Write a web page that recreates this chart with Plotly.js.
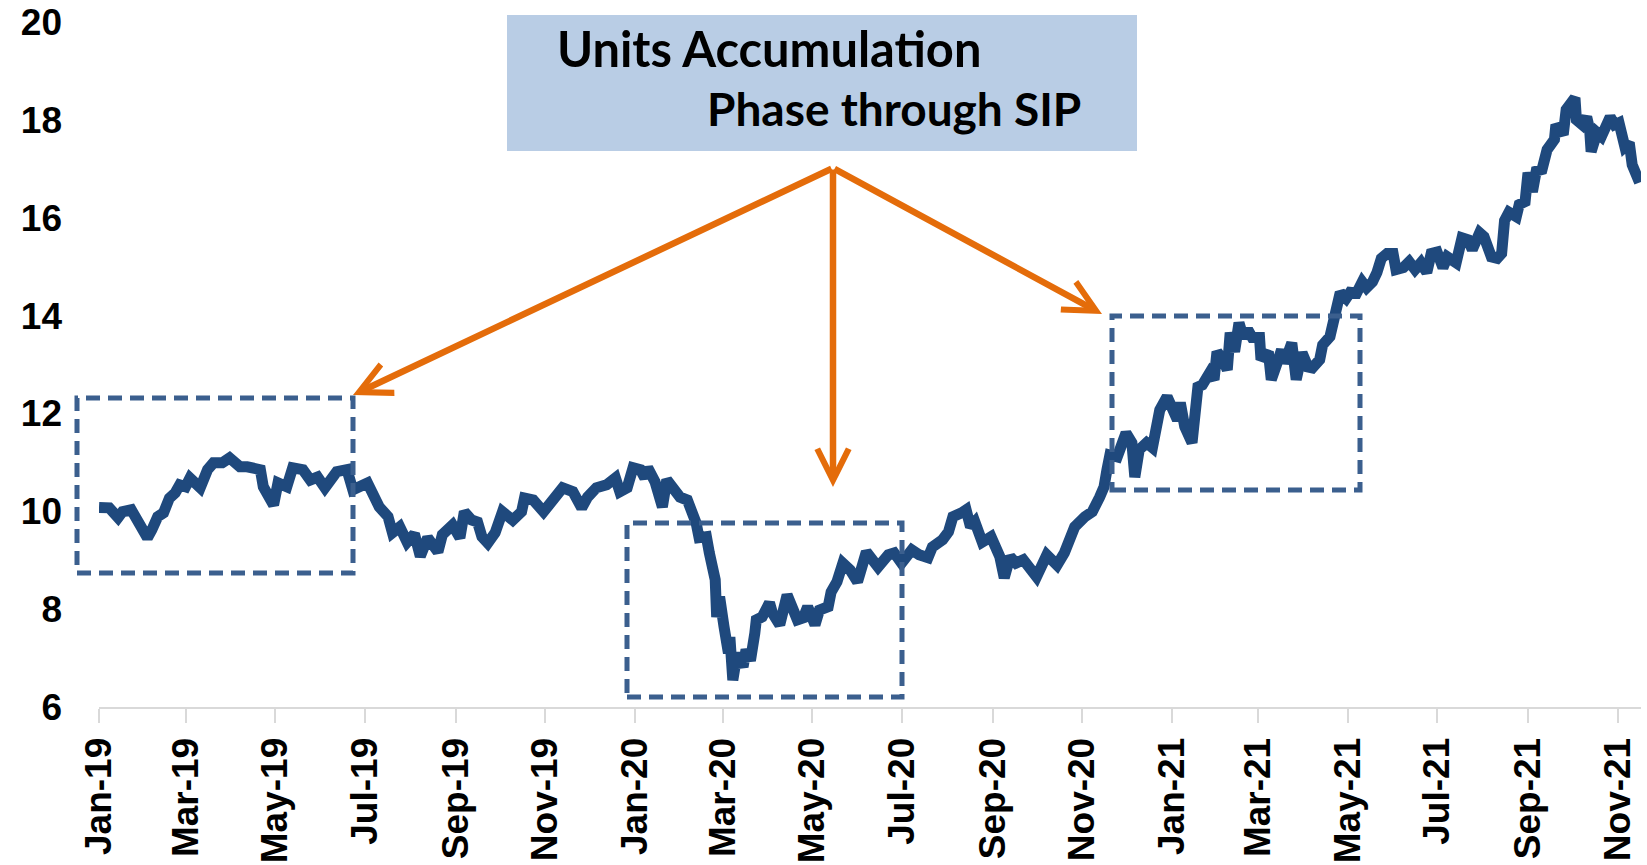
<!DOCTYPE html>
<html>
<head>
<meta charset="utf-8">
<script src="https://cdn.plot.ly/plotly-3.0.1.min.js"></script>
<style>
  html, body { margin: 0; padding: 0; background: #ffffff; }
  #chart { width: 1647px; height: 865px; }
</style>
</head>
<body>
<div id="chart"></div>
<script>
// ---- Data ----
const dates = [
  '2019-01-01','2019-01-08','2019-01-14','2019-01-17','2019-01-23','2019-01-29','2019-02-03','2019-02-06','2019-02-10','2019-02-14',
  '2019-02-18','2019-02-22','2019-02-25','2019-03-01','2019-03-04','2019-03-11','2019-03-16','2019-03-20','2019-03-26','2019-03-31',
  '2019-04-07','2019-04-12','2019-04-21','2019-04-23','2019-04-30','2019-05-03','2019-05-09','2019-05-13','2019-05-20','2019-05-25',
  '2019-05-30','2019-06-04','2019-06-09','2019-06-12','2019-06-19','2019-06-23','2019-07-03','2019-07-06','2019-07-11','2019-07-17',
  '2019-07-20','2019-07-25','2019-07-30','2019-08-04','2019-08-08','2019-08-13','2019-08-20','2019-08-23','2019-08-30','2019-09-04',
  '2019-09-07','2019-09-12','2019-09-16','2019-09-19','2019-09-23','2019-09-28','2019-10-03','2019-10-10','2019-10-16','2019-10-18',
  '2019-10-24','2019-10-31','2019-11-06','2019-11-13','2019-11-20','2019-11-26','2019-11-30','2019-12-06','2019-12-13','2019-12-19',
  '2019-12-22','2019-12-27','2019-12-31','2020-01-05','2020-01-08','2020-01-10','2020-01-15','2020-01-20','2020-01-23','2020-01-27',
  '2020-02-01','2020-02-06','2020-02-10','2020-02-12','2020-02-14','2020-02-19','2020-02-21','2020-02-25','2020-02-26','2020-02-28',
  '2020-03-02','2020-03-05','2020-03-06','2020-03-08','2020-03-11','2020-03-13','2020-03-15','2020-03-17','2020-03-20','2020-03-23',
  '2020-03-24','2020-03-28','2020-04-02','2020-04-04','2020-04-09','2020-04-14','2020-04-18','2020-04-21','2020-04-25','2020-04-28',
  '2020-05-03','2020-05-06','2020-05-12','2020-05-14','2020-05-18','2020-05-22','2020-05-27','2020-06-01','2020-06-07','2020-06-11',
  '2020-06-15','2020-06-22','2020-06-26','2020-07-01','2020-07-08','2020-07-13','2020-07-19','2020-07-22','2020-07-29','2020-08-02',
  '2020-08-05','2020-08-11','2020-08-14','2020-08-17','2020-08-20','2020-08-25','2020-08-31','2020-09-06','2020-09-09','2020-09-13',
  '2020-09-17','2020-09-22','2020-09-26','2020-10-01','2020-10-08','2020-10-15','2020-10-20','2020-10-24','2020-10-27','2020-11-03',
  '2020-11-08','2020-11-13','2020-11-16','2020-11-18','2020-11-20','2020-11-25','2020-12-01','2020-12-05','2020-12-07','2020-12-10',
  '2020-12-15','2020-12-19','2020-12-21','2020-12-24','2020-12-29','2021-01-02','2021-01-05','2021-01-07','2021-01-10','2021-01-15',
  '2021-01-19','2021-01-22','2021-01-27','2021-01-30','2021-02-01','2021-02-05','2021-02-08','2021-02-10','2021-02-13','2021-02-16',
  '2021-02-19','2021-02-22','2021-02-25','2021-03-02','2021-03-03','2021-03-08','2021-03-10','2021-03-14','2021-03-17','2021-03-19',
  '2021-03-24','2021-03-27','2021-03-31','2021-04-04','2021-04-07','2021-04-12','2021-04-14','2021-04-19','2021-04-22','2021-04-26',
  '2021-04-30','2021-05-04','2021-05-06','2021-05-11','2021-05-14','2021-05-18','2021-05-21','2021-05-24','2021-05-28','2021-06-01',
  '2021-06-03','2021-06-08','2021-06-12','2021-06-16','2021-06-20','2021-06-24','2021-06-27','2021-07-01','2021-07-05','2021-07-08',
  '2021-07-14','2021-07-16','2021-07-18','2021-07-22','2021-07-25','2021-07-30','2021-08-02','2021-08-07','2021-08-11','2021-08-14',
  '2021-08-16','2021-08-19','2021-08-24','2021-08-26','2021-08-30','2021-09-01','2021-09-04','2021-09-07','2021-09-10','2021-09-14',
  '2021-09-19','2021-09-20','2021-09-25','2021-09-27','2021-10-03','2021-10-04','2021-10-08','2021-10-11','2021-10-13','2021-10-14',
  '2021-10-18','2021-10-21','2021-10-27','2021-10-30','2021-11-02','2021-11-06','2021-11-09','2021-11-11','2021-11-16'
];
const nav = [
  10.08,10.07,9.87,9.99,10.03,9.68,9.46,9.62,9.89,9.97,
  10.27,10.38,10.54,10.50,10.68,10.48,10.85,10.99,10.99,11.09,
  10.91,10.91,10.85,10.50,10.13,10.58,10.50,10.89,10.85,10.64,
  10.70,10.48,10.64,10.81,10.85,10.44,10.58,10.34,10.09,9.89,
  9.56,9.68,9.37,9.54,9.08,9.46,9.17,9.52,9.72,9.46,
  9.99,9.82,9.78,9.48,9.35,9.56,9.99,9.82,9.99,10.27,
  10.23,9.99,10.23,10.48,10.40,10.07,10.29,10.48,10.54,10.68,
  10.40,10.48,10.89,10.85,10.68,10.89,10.60,10.09,10.64,10.50,
  10.29,10.23,9.99,9.76,9.46,9.48,9.15,8.60,7.84,8.25,
  7.64,7.10,7.43,6.55,7.10,6.95,6.82,7.17,6.95,7.51,
  7.78,7.84,8.13,7.92,7.68,8.29,8.02,7.78,7.82,8.05,
  7.68,7.98,8.05,8.35,8.56,8.94,8.80,8.56,9.17,8.97,
  8.86,9.11,9.15,8.94,9.21,9.11,9.05,9.27,9.42,9.58,
  9.89,9.97,10.03,9.68,9.78,9.37,9.48,9.07,8.64,9.07,
  8.94,9.01,8.85,8.66,9.11,8.90,9.15,9.42,9.68,9.89,
  9.99,10.29,10.50,10.85,11.15,11.11,11.60,11.40,10.70,11.26,
  11.40,11.30,11.60,12.07,12.34,12.13,11.87,12.22,11.73,11.40,
  12.54,12.58,12.83,12.69,13.26,13.10,12.89,13.65,13.26,13.85,
  13.55,13.71,13.55,13.55,13.10,13.26,12.69,13.03,13.30,13.03,
  13.44,12.69,13.24,12.95,12.93,13.10,13.40,13.57,13.98,14.47,
  14.35,14.53,14.39,14.69,14.57,14.69,14.88,15.17,15.27,15.27,
  14.94,14.98,15.10,14.94,15.08,14.88,15.27,15.30,14.98,15.20,
  15.08,15.39,15.59,15.55,15.35,15.69,15.61,15.20,15.17,15.27,
  15.94,16.11,16.02,16.27,16.33,16.92,16.53,17.02,16.92,17.39,
  17.60,17.90,17.70,18.21,18.45,18.00,17.90,18.06,17.80,17.35,
  17.74,17.66,18.06,17.90,17.94,17.45,17.53,17.08,16.72
];
const yTicks = [6, 8, 10, 12, 14, 16, 18, 20];
const boxTitleLine1 = 'Units Accumulation';
const boxTitleLine2 = 'Phase through SIP';

// ---- Layout geometry (pixels in the 1647x865 page) ----
const W = 1647, H = 865;
const M = { l: 99, r: 6, t: 22, b: 158 };
const plotW = W - M.l - M.r, plotH = H - M.t - M.b;
const px = X => (X - M.l) / plotW;           // page px -> paper x
const py = Y => (H - M.b - Y) / plotH;       // page px -> paper y

const boxColor = '#3b5f8e';
const arrowColor = '#e46c0a';
function dashedBox(x0, y0, x1, y1) {
  return {
    type: 'rect', xref: 'paper', yref: 'paper',
    x0: px(x0), x1: px(x1), y0: py(y1), y1: py(y0),
    line: { color: boxColor, width: 5, dash: '14px,8px' },
    fillcolor: 'rgba(0,0,0,0)', layer: 'above'
  };
}
const tail = { X: 833, Y: 168 };
function arrow(tipX, tipY) {
  return {
    xref: 'paper', yref: 'paper', x: px(tipX), y: py(tipY),
    ax: tail.X - tipX, ay: tail.Y - tipY,
    text: '', showarrow: true, arrowhead: 5, arrowsize: 0.95, arrowwidth: 6.5,
    arrowcolor: arrowColor, standoff: 0, startstandoff: 0
  };
}

const trace = {
  type: 'scatter', mode: 'lines',
  x: dates, y: nav,
  line: { color: '#1f497d', width: 11, shape: 'linear' },
  hoverinfo: 'x+y'
};

const layout = {
  width: W, height: H,
  margin: M,
  paper_bgcolor: '#ffffff', plot_bgcolor: '#ffffff',
  showlegend: false,
  xaxis: {
    type: 'date',
    range: ['2019-01-01', '2021-11-17'],
    tick0: '2019-01-01', dtick: 'M2', tickformat: '%b-%y',
    tickangle: -90,
    showgrid: false, zeroline: false,
    showline: true, linecolor: '#d9d9d9', linewidth: 2,
    ticks: 'outside', ticklen: 14, tickwidth: 2, tickcolor: '#d9d9d9',
    ticklabelstandoff: 0,
    tickfont: { family: 'Liberation Sans, Arial, sans-serif', size: 37, color: '#000000', weight: 700 },
    automargin: false
  },
  yaxis: {
    range: [6, 20],
    tickvals: yTicks,
    showgrid: false, zeroline: false, showline: false,
    ticks: '',
    ticklabelstandoff: 36,
    tickfont: { family: 'Liberation Sans, Arial, sans-serif', size: 37, color: '#000000', weight: 700 },
    automargin: false
  },
  shapes: [
    { type: 'rect', xref: 'paper', yref: 'paper',
      x0: px(507), x1: px(1137), y0: py(151), y1: py(15),
      fillcolor: '#b9cde5', line: { width: 0 }, layer: 'above' },
    dashedBox(77, 398, 353, 573),
    dashedBox(627, 523, 902, 697),
    dashedBox(1112, 316, 1360, 490)
  ],
  annotations: [
    { xref: 'paper', yref: 'paper', x: px(555), y: py(48), xanchor: 'left', yanchor: 'middle',
      text: boxTitleLine1, showarrow: false,
      font: { family: 'Lato, Carlito, sans-serif', size: 48.8, color: '#000000', weight: 700 } },
    { xref: 'paper', yref: 'paper', x: px(705), y: py(108), xanchor: 'left', yanchor: 'middle',
      text: boxTitleLine2, showarrow: false,
      font: { family: 'Lato, Carlito, sans-serif', size: 46, color: '#000000', weight: 700 } },
    arrow(353, 395),
    arrow(833, 487),
    arrow(1102, 314)
  ]
};

Plotly.newPlot('chart', [trace], layout, { displayModeBar: false, staticPlot: true });
</script>
</body>
</html>
